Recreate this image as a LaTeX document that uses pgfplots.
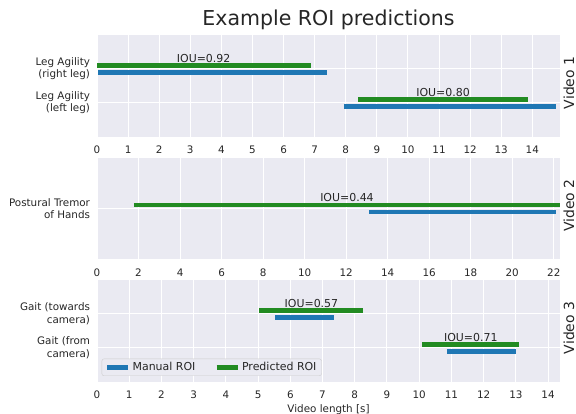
\documentclass[border=0pt]{standalone}
\usepackage{fontspec}
\setmainfont{DejaVu Sans}
\usepackage{pgfplots}
\pgfplotsset{compat=1.18}
\definecolor{bg}{HTML}{EAEAF2}
\definecolor{txt}{HTML}{262626}
\definecolor{mblue}{HTML}{1F77B4}
\definecolor{pgreen}{HTML}{228B22}
\definecolor{legframe}{HTML}{CCCCCC}
\tikzset{
  man/.style={mblue, line width=4.7bp},
  pred/.style={pgreen, line width=4.7bp},
  iou/.style={anchor=south, inner sep=0pt, yshift=3bp, font=\fontsize{11}{13}\selectfont, text=txt},
  vid/.style={rotate=90, anchor=north, xshift=3bp, font=\fontsize{14}{16}\selectfont, text=txt},
}
\pgfplotsset{
  roi/.style={
    scale only axis, width=463bp, height=101.7bp,
    axis background/.style={fill=bg},
    axis line style={draw=none},
    major tick length=0pt,
    xmajorgrids, ymajorgrids,
    grid style={white, line width=1bp},
    xmin=0, ymin=-1, ymax=2,
    clip mode=individual,
    tick label style={font=\fontsize{10.4}{12.4}\selectfont, text=txt},
    /pgf/number format/assume math mode=true,
    yticklabel style={align=right, xshift=-3.5bp},
    xticklabel style={yshift=-6bp},
  },
}
\begin{document}
\begin{tikzpicture}
\useasboundingbox (0,0) rectangle (576bp,414bp);
% Video 1
\begin{axis}[roi, at={(97bp,379bp)}, anchor=north west,
  xmax=14.89, xtick={0,...,14},
  ytick={0,1}, yticklabels={{Leg Agility\\(left leg)},{Leg Agility\\(right leg)}}]
\addplot[pred] coordinates {(0,1.1) (6.87,1.1)};
\addplot[man] coordinates {(0.04,0.9) (7.40,0.9)};
\addplot[pred] coordinates {(8.40,0.1) (13.86,0.1)};
\addplot[man] coordinates {(7.95,-0.1) (14.75,-0.1)};
\node[iou] at (axis cs:3.43,1.1) {IOU=0.92};
\node[iou] at (axis cs:11.13,0.1) {IOU=0.80};
\node[vid] at (rel axis cs:1,0.5) {Video 1};
\node[anchor=base, font=\fontsize{20.6}{24}\selectfont, text=txt] at (rel axis cs:0.5,1) [yshift=9bp] {Example ROI predictions};
\end{axis}
% Video 2
\begin{axis}[roi, at={(97bp,256.3bp)}, anchor=north west,
  xmax=22.3, xtick={0,2,...,22}, ymin=-1, ymax=1,
  ytick={0}, yticklabels={{Postural Tremor\\of Hands}}]
\addplot[pred] coordinates {(1.78,0.068) (22.3,0.068)};
\addplot[man] coordinates {(13.12,-0.068) (22.1,-0.068)};
\node[iou] at (axis cs:12.04,0.068) {IOU=0.44};
\node[vid] at (rel axis cs:1,0.5) {Video 2};
\end{axis}
% Video 3
\begin{axis}[roi, at={(97bp,134bp)}, anchor=north west,
  xmax=14.37, xtick={0,...,14},
  ytick={0,1}, yticklabels={{Gait (from\\camera)},{Gait (towards\\camera)}},
  legend columns=2,
  legend style={at={(0.0102,0.057)}, anchor=south west, fill=bg, draw=legframe,
    rounded corners=2bp, font=\fontsize{11}{13}\selectfont, text=txt,
    inner xsep=3bp, inner ysep=1.5bp,
    /tikz/every even column/.append style={column sep=17bp}},
  legend image code/.code={\draw[#1, line width=4.7bp] (0bp,0bp) -- (21bp,0bp);},
  legend cell align=left]
\addplot[man] coordinates {(5.53,0.9) (7.36,0.9)};
\addlegendentry{Manual ROI}
\addplot[pred] coordinates {(5.04,1.1) (8.27,1.1)};
\addlegendentry{Predicted ROI}
\addplot[pred, forget plot] coordinates {(10.09,0.1) (13.10,0.1)};
\addplot[man, forget plot] coordinates {(10.86,-0.1) (12.99,-0.1)};
\node[iou] at (axis cs:6.655,1.1) {IOU=0.57};
\node[iou] at (axis cs:11.6,0.1) {IOU=0.71};
\node[vid] at (rel axis cs:1,0.5) {Video 3};
\node[anchor=base, font=\fontsize{10.4}{12.4}\selectfont, text=txt] at (rel axis cs:0.5,0) [yshift=-30.3bp] {Video length [s]};
\end{axis}
\end{tikzpicture}
\end{document}
